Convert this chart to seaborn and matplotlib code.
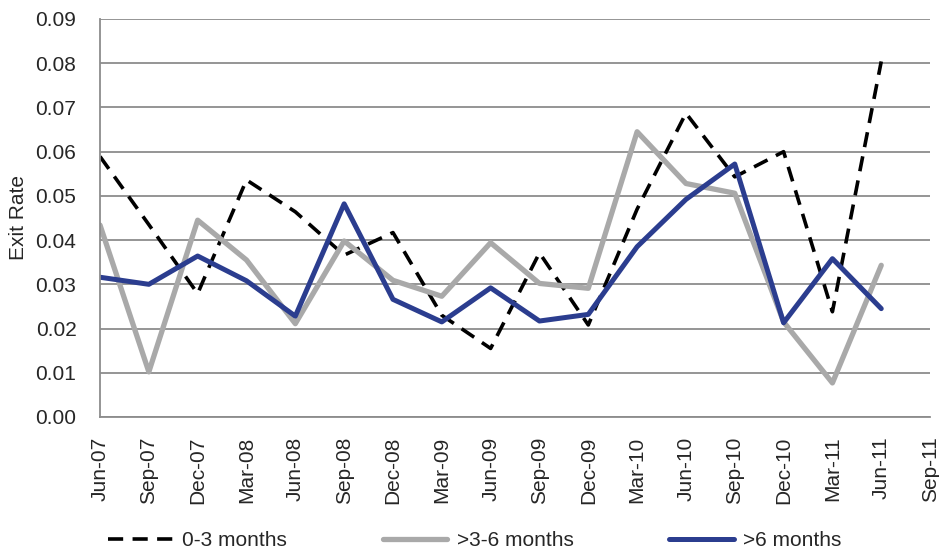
import numpy as np
import pandas as pd
import matplotlib
matplotlib.use('Agg')
import matplotlib.pyplot as plt
import seaborn as sns

quarters = ['Jun-07', 'Sep-07', 'Dec-07', 'Mar-08', 'Jun-08', 'Sep-08', 'Dec-08', 'Mar-09',
            'Jun-09', 'Sep-09', 'Dec-09', 'Mar-10', 'Jun-10', 'Sep-10', 'Dec-10', 'Mar-11',
            'Jun-11', 'Sep-11']

short_term = [0.0589, 0.0435, 0.0279, 0.0536, 0.0464, 0.0366, 0.0417, 0.0230, 0.0155,
              0.0371, 0.0208, 0.0470, 0.0687, 0.0543, 0.0600, 0.0238, 0.0804]
mid_term = [0.0434, 0.0102, 0.0445, 0.0355, 0.0211, 0.0398, 0.0309, 0.0273, 0.0394,
            0.0302, 0.0291, 0.0645, 0.0528, 0.0506, 0.0215, 0.0077, 0.0343]
long_term = [0.0316, 0.0300, 0.0364, 0.0308, 0.0228, 0.0482, 0.0266, 0.0215, 0.0292,
             0.0217, 0.0232, 0.0385, 0.0492, 0.0572, 0.0213, 0.0358, 0.0245]

series = ['0-3 months', '>3-6 months', '>6 months']

df = pd.DataFrame({
    'q': list(range(len(short_term))) * 3,
    'rate': short_term + mid_term + long_term,
    'group': np.repeat(series, len(short_term)),
})

sns.set_style('white')
plt.rcParams['font.family'] = ['Liberation Sans', 'DejaVu Sans']

fig = plt.figure(figsize=(9.39, 5.52), dpi=100)
ax = fig.add_axes([0.1065, 0.2446, 0.884, 0.721])

grid_col = '#8c8c8c'
ax.set_ylim(0, 0.09)
ax.set_xlim(0, len(quarters) - 1)
ax.set_yticks(np.arange(0, 0.0901, 0.01))
ax.yaxis.grid(True, color=grid_col, linewidth=1.3)
ax.set_axisbelow(True)

# seaborn handles colour, dash and width per series
sns.lineplot(data=df, x='q', y='rate', hue='group', style='group', size='group',
             hue_order=series, style_order=series, size_order=series,
             palette={'0-3 months': 'black', '>3-6 months': '#a9a9a9', '>6 months': '#2b3d8f'},
             dashes={'0-3 months': (4.2, 2.6), '>3-6 months': '', '>6 months': ''},
             sizes={'0-3 months': 2.6, '>3-6 months': 3.8, '>6 months': 3.6},
             ax=ax, legend=True)

handles, labels = ax.get_legend_handles_labels()
ax.get_legend().remove()

for s in ['top', 'right']:
    ax.spines[s].set_visible(False)
for s in ['left', 'bottom']:
    ax.spines[s].set_color(grid_col)
    ax.spines[s].set_linewidth(1.3)

ax.set_xticks(range(len(quarters)))
ax.set_xticklabels(quarters, rotation=90)
ax.yaxis.set_major_formatter(matplotlib.ticker.FormatStrFormatter('%.2f'))
ax.tick_params(axis='both', direction='out', color=grid_col, width=1.3, labelsize=15)
ax.tick_params(axis='x', length=6, pad=8)
ax.tick_params(axis='y', length=5, pad=12)
ax.set_xlabel('')
ax.set_ylabel('')
fig.text(19 / 939, 1 - 218 / 552, 'Exit Rate', rotation=90, ha='center', va='center', fontsize=15)

fig.legend(handles, labels, loc='center left', bbox_to_anchor=(108 / 939, 0.02), ncol=3,
           frameon=False, fontsize=15, handlelength=3.1, handletextpad=0.45,
           columnspacing=4.6, borderpad=0, borderaxespad=0)

fig.savefig('out.png', dpi=100)
